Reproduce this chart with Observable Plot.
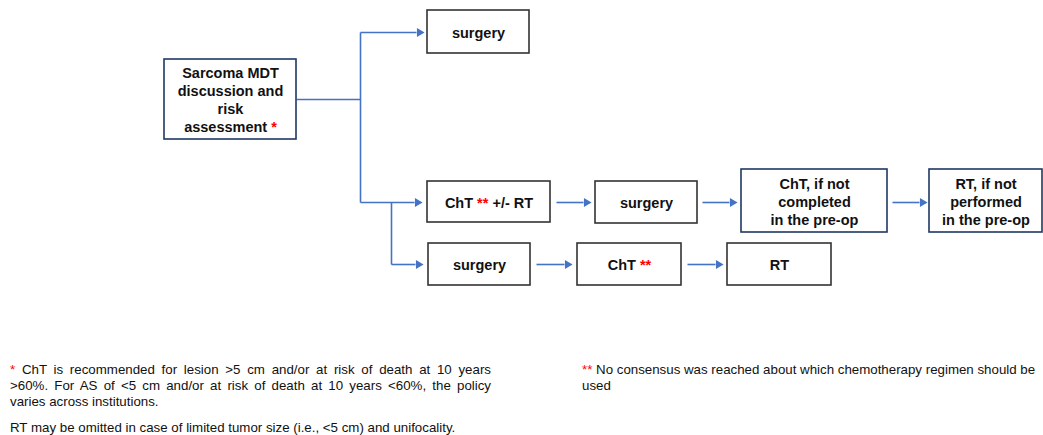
<!DOCTYPE html>
<html>
<head>
<meta charset="utf-8">
<script src="https://cdn.jsdelivr.net/npm/d3@7"></script>
<script src="https://cdn.jsdelivr.net/npm/@observablehq/plot@0.6"></script>
<style>
  html, body { margin: 0; padding: 0; background: #fff; }
  #fig { position: relative; width: 1043px; height: 435px; font-family: "Liberation Sans", Arial, sans-serif; color: #111; }
  #chart svg { display: block; }
  .note { position: absolute; font-size: 13.3px; line-height: 16px; }
  .just { text-align: justify; text-align-last: justify; }
  .red { color: #ff0000; }
</style>
</head>
<body>
<div id="fig">
  <div id="chart"></div>
  <div class="note" style="left:10px; top:362px; width:481px;">
    <div class="just"><span class="red">*</span> ChT is recommended for lesion &gt;5 cm and/or at risk of death at 10 years</div>
    <div class="just">&gt;60%. For AS of &lt;5 cm and/or at risk of death at 10 years &lt;60%, the policy</div>
    <div>varies across institutions.</div>
    <div style="margin-top:10px;">RT may be omitted in case of limited tumor size (i.e., &lt;5 cm) and unifocality.</div>
  </div>
  <div class="note" style="left:582px; top:362px; width:461px; white-space:nowrap;">
    <span class="red">**</span> No consensus was reached about which chemotherapy regimen should be<br>used
  </div>
</div>
<script>
// ---- data ----
const boxLabels = [
  "Sarcoma MDT\ndiscussion and\nrisk\nassessment *",
  "surgery",
  "ChT ** +/- RT",
  "surgery",
  "ChT, if not\ncompleted\nin the pre-op",
  "RT, if not\nperformed\nin the pre-op",
  "surgery",
  "ChT **",
  "RT"
];
const boxKind = ["key", "step", "step", "step", "key", "key", "step", "step", "step"];
const boxX1 = [164, 427, 427, 595, 741, 929, 428, 577, 727];
const boxX2 = [296, 529, 550, 697, 887, 1042, 530, 681, 831];
const boxY1 = [59, 10, 181, 181, 169, 169, 243, 243, 243];
const boxY2 = [139, 53, 222, 223, 232, 232, 285, 285, 285];

// connector segments (no head)
const segX1 = [296, 360, 391];
const segY1 = [99, 32, 202];
const segX2 = [360, 360, 391];
const segY2 = [99, 202, 264];
// arrows (with head at end)
const arrX1 = [360, 360, 391, 556, 702, 892, 536, 687];
const arrY1 = [32, 202, 264, 202, 202, 202, 264, 264];
const arrX2 = [422, 420, 421, 589, 735, 925, 570, 721];
const arrY2 = [32, 202, 264, 202, 202, 202, 264, 264];

// ---- build tables ----
const boxes = boxLabels.map((label, i) => ({
  label, kind: boxKind[i], x1: boxX1[i], x2: boxX2[i], y1: boxY1[i], y2: boxY2[i],
  cx: (boxX1[i] + boxX2[i]) / 2, cy: (boxY1[i] + boxY2[i]) / 2
}));
const segs = segX1.map((x, i) => ({x1: x, y1: segY1[i], x2: segX2[i], y2: segY2[i]}));
const HEAD = 7;
const arrows = arrX1.map((x, i) => ({x1: x, y1: arrY1[i], x2: arrX2[i], y2: arrY2[i]}));
const arrowLines = arrows.map(a => ({...a, x2: a.x2 - HEAD + 1}));
const heads = arrows.map(a => ({x: a.x2 - HEAD / 2 + 0.5, y: a.y2}));

const W = 1043, H = 345;
const LINE = "#4472c4";
const plot = Plot.plot({
  width: W, height: H,
  margin: 0,
  x: {domain: [0, W], range: [0, W], axis: null},
  y: {domain: [0, H], range: [0, H], axis: null},
  style: {fontFamily: "'Liberation Sans', Arial, sans-serif", background: "#fff"},
  marks: [
    Plot.link(segs, {x1: "x1", y1: "y1", x2: "x2", y2: "y2", stroke: LINE, strokeWidth: 1.6}),
    Plot.link(arrowLines, {x1: "x1", y1: "y1", x2: "x2", y2: "y2", stroke: LINE, strokeWidth: 1.6}),
    Plot.dot(heads, {x: "x", y: "y", symbol: "triangle2", rotate: 90, r: 4.2, fill: LINE, stroke: "none"}),
    Plot.rect(boxes, {
      x1: "x1", x2: "x2", y1: "y1", y2: "y2", fill: "#fff",
      stroke: d => d.kind === "key" ? "#1f3864" : "#333333", strokeWidth: 1.6
    }),
    Plot.text(boxes, {
      x: "cx", y: "cy", text: "label", fontSize: 14.5, fontWeight: "bold",
      lineHeight: 1.23, fill: "#111", textAnchor: "middle"
    })
  ]
});
document.getElementById("chart").appendChild(plot);

// colour asterisks red
const walker = document.createTreeWalker(plot, NodeFilter.SHOW_TEXT);
const nodes = [];
while (walker.nextNode()) if (walker.currentNode.nodeValue.includes("*")) nodes.push(walker.currentNode);
const NS = "http://www.w3.org/2000/svg";
for (const n of nodes) {
  const parts = n.nodeValue.split(/(\*+)/);
  const frag = document.createDocumentFragment();
  for (const p of parts) {
    if (!p) continue;
    if (p[0] === "*") {
      const t = document.createElementNS(NS, "tspan");
      t.setAttribute("fill", "#ff0000");
      t.textContent = p;
      frag.appendChild(t);
    } else frag.appendChild(document.createTextNode(p));
  }
  n.parentNode.replaceChild(frag, n);
}
</script>
</body>
</html>
